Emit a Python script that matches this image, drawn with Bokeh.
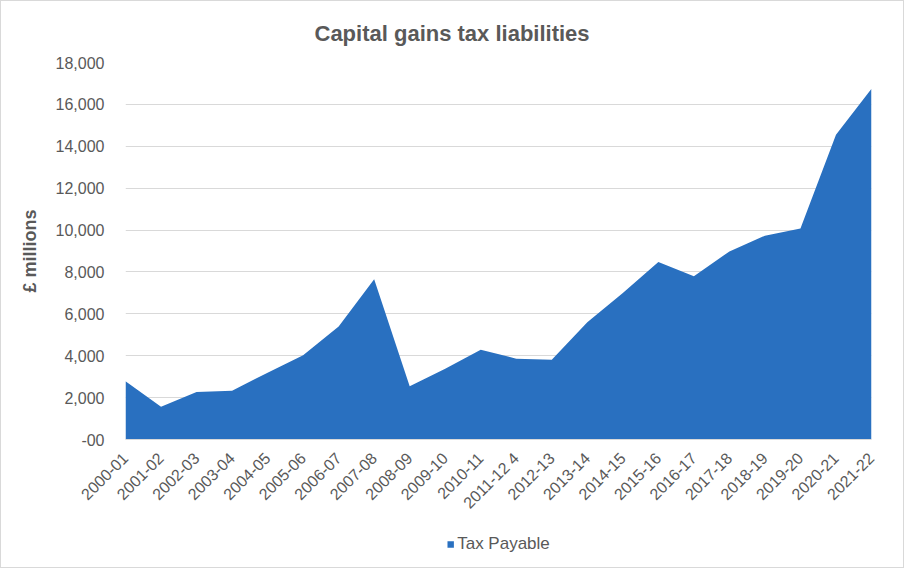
from math import pi

from bokeh.plotting import figure
from bokeh.layouts import column
from bokeh.models import ColumnDataSource, FixedTicker, Legend, LegendItem, Range1d
from bokeh.embed import file_html
from bokeh.resources import INLINE

years = ["2000-01", "2001-02", "2002-03", "2003-04", "2004-05", "2005-06", "2006-07",
         "2007-08", "2008-09", "2009-10", "2010-11", "2011-12 4", "2012-13", "2013-14",
         "2014-15", "2015-16", "2016-17", "2017-18", "2018-19", "2019-20", "2020-21",
         "2021-22"]
tax_payable = [2780, 1560, 2270, 2330, 3190, 4020, 5400, 7650, 2540, 3380, 4290,
               3860, 3810, 5600, 7000, 8470, 7800, 8980, 9730, 10080, 14550, 16750]
y_ticks = [0, 2000, 4000, 6000, 8000, 10000, 12000, 14000, 16000, 18000]
y_labels = ["-00", "2,000", "4,000", "6,000", "8,000", "10,000", "12,000", "14,000",
            "16,000", "18,000"]

FONT = "Liberation Sans"
GREY = "#595959"
BLUE = "#2970C0"

src = ColumnDataSource(dict(x=list(range(len(years))), y=tax_payable))

p = figure(width=902, height=520, output_backend="svg", toolbar_location=None,
           x_range=Range1d(0, len(years) - 1), y_range=Range1d(0, 18000),
           min_border_left=124, min_border_right=32, min_border_top=60,
           min_border_bottom=82)

# Excel centres the title on the whole chart, not on the plot area
p.title.text = "Capital gains tax liabilities"
p.title.align = "left"
p.title.offset = 189
p.title.text_font = FONT
p.title.text_font_size = "22px"
p.title.text_font_style = "bold"
p.title.text_color = GREY
p.title.standoff = 34

area = p.varea(x="x", y1=0, y2="y", source=src, fill_color=BLUE)

p.outline_line_color = None
p.xgrid.grid_line_color = None
p.ygrid.grid_line_color = "#d9d9d9"
p.ygrid.grid_line_width = 1

p.yaxis.ticker = FixedTicker(ticks=y_ticks)
p.yaxis.major_label_overrides = dict(zip(y_ticks, y_labels))
p.yaxis.axis_line_color = None
p.yaxis.major_tick_line_color = None
p.yaxis.minor_tick_line_color = None
p.yaxis.major_label_text_font = FONT
p.yaxis.major_label_text_font_size = "16px"
p.yaxis.major_label_text_color = GREY
p.yaxis.major_label_standoff = 15
p.yaxis.axis_label = "£ millions"
p.yaxis.axis_label_text_font = FONT
p.yaxis.axis_label_text_font_size = "18px"
p.yaxis.axis_label_text_font_style = "bold"
p.yaxis.axis_label_text_color = GREY
p.yaxis.axis_label_standoff = 13

p.xaxis.ticker = FixedTicker(ticks=list(range(len(years))))
p.xaxis.major_label_overrides = {i: name for i, name in enumerate(years)}
p.xaxis.major_label_orientation = pi / 4
p.xaxis.axis_line_color = "#d9d9d9"
p.xaxis.major_tick_line_color = None
p.xaxis.minor_tick_line_color = None
p.xaxis.major_label_text_font = FONT
p.xaxis.major_label_text_font_size = "16px"
p.xaxis.major_label_text_color = GREY
p.xaxis.major_label_standoff = 10

# legend strip under the chart; its area glyph sits outside the visible range
p2 = figure(width=902, height=46, output_backend="svg", toolbar_location=None,
            x_range=Range1d(-2, -1), y_range=Range1d(0, 1),
            x_axis_type=None, y_axis_type=None, min_border=0)
p2.outline_line_color = None
p2.grid.grid_line_color = None
key = p2.varea(x="x", y1=0, y2="y", source=src, fill_color=BLUE)

legend = Legend(items=[LegendItem(label="Tax Payable", renderers=[key])],
                orientation="horizontal", location="center", margin=0, padding=0,
                border_line_color=None, background_fill_alpha=0,
                glyph_width=8, glyph_height=8, label_standoff=3,
                label_text_font=FONT, label_text_font_size="17px",
                label_text_color=GREY)
p2.add_layout(legend)

layout = column(p, p2, spacing=0, styles={"border": "1px solid #d9d9d9"})

open("out.html", "w").write(file_html(layout, INLINE))
